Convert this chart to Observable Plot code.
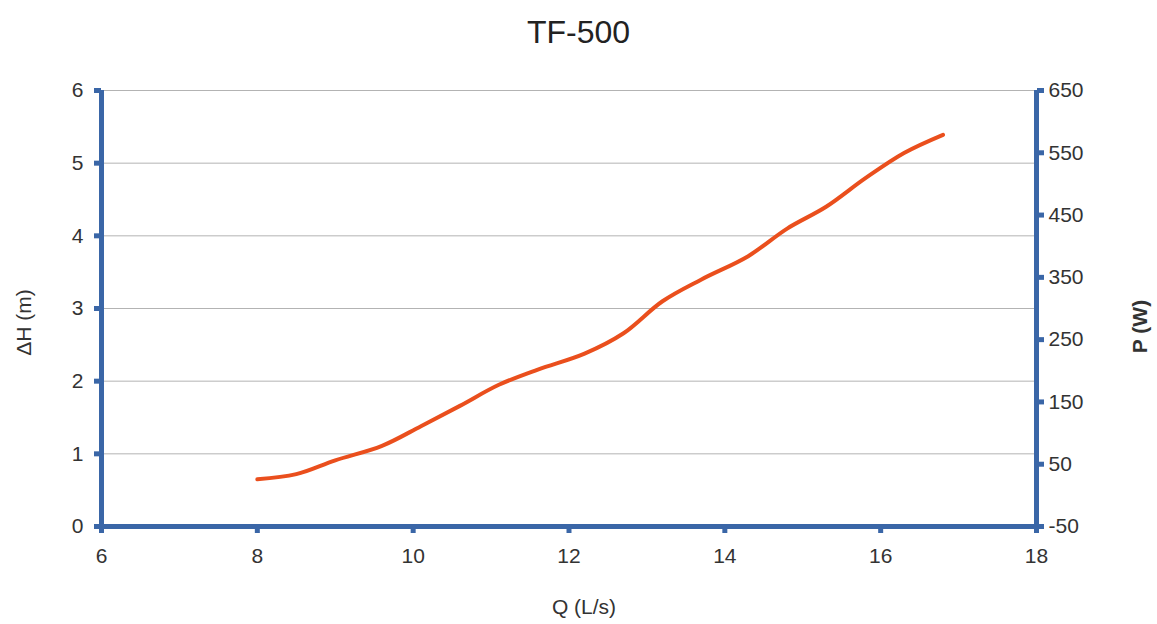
<!DOCTYPE html>
<html><head><meta charset="utf-8">
<script src="https://cdn.jsdelivr.net/npm/d3@7"></script>
<script src="https://cdn.jsdelivr.net/npm/@observablehq/plot@0.6"></script>
<style>
body{margin:0;background:#fff;font-family:"Liberation Sans",Arial,sans-serif;}
#title{height:60px;text-align:center;font-size:32px;color:#222;line-height:64px;padding-left:0px;}
#chart svg{display:block;}
</style></head><body>
<div id="title">TF-500</div>
<div id="chart"></div>
<script>
const Q  = [8.0, 8.5, 9.0, 9.6, 10.1, 10.6, 11.1, 11.6, 12.2, 12.7, 13.2, 13.7, 14.3, 14.8, 15.3, 15.8, 16.3, 16.8];
const dH = [0.65, 0.72, 0.91, 1.11, 1.38, 1.66, 1.95, 2.16, 2.38, 2.66, 3.10, 3.40, 3.72, 4.10, 4.40, 4.79, 5.14, 5.39];
const xTicks = [6, 8, 10, 12, 14, 16, 18];
const hTicks = [0, 1, 2, 3, 4, 5, 6];
const pTicks = [-50, 50, 150, 250, 350, 450, 550, 650];
const title = "TF-500";
const xLabel = "Q (L/s)";
const hLabel = "ΔH (m)";
const pLabel = "P (W)";

const hDomain = [0, 6], pDomain = [-50, 650];
const toH = p => (p - pDomain[0]) / (pDomain[1] - pDomain[0]) * (hDomain[1] - hDomain[0]) + hDomain[0];
const toP = h => Math.round(pDomain[0] + (h - hDomain[0]) / (hDomain[1] - hDomain[0]) * (pDomain[1] - pDomain[0]));
const data = Q.map((q, i) => ({q, h: dH[i]}));
const blue = "#3a66a7";
const txt = "#333";
document.getElementById("title").textContent = title;

const chart = Plot.plot({
  width: 1157, height: 564,
  marginTop: 30, marginBottom: 98, marginLeft: 101, marginRight: 121,
  style: {fontFamily: "'Liberation Sans', Arial, sans-serif", fontSize: "21px", color: txt, background: "#fff"},
  x: {domain: [6, 18]},
  y: {domain: hDomain},
  marks: [
    Plot.gridY(hTicks, {stroke: "#b3b3b3", strokeOpacity: 1, strokeWidth: 1}),
    Plot.axisX(xTicks, {tickSize: 7, tickPadding: 15, stroke: blue, strokeWidth: 5, fill: txt, label: null, fontSize: 21, tickFormat: d => String(d)}),
    Plot.axisY(hTicks, {anchor: "left", tickSize: 7, tickPadding: 11, stroke: blue, strokeWidth: 5, fill: txt, label: null, fontSize: 21, tickFormat: d => String(d)}),
    Plot.axisY(pTicks.map(toH), {anchor: "right", tickSize: 7, tickPadding: 5, stroke: blue, strokeWidth: 5, fill: txt, label: null, fontSize: 21, tickFormat: toP}),
    Plot.ruleX([6, 18], {stroke: blue, strokeWidth: 5}),
    Plot.ruleY([0], {stroke: blue, strokeWidth: 5}),
    Plot.line(data, {x: "q", y: "h", stroke: "#ea4f1d", strokeWidth: 4, curve: "catmull-rom"}),
    Plot.text([xLabel], {text: d => d, frameAnchor: "bottom", dy: 81, dx: 15, fontSize: 21, fill: txt, lineAnchor: "middle", textAnchor: "middle"}),
    Plot.text([hLabel], {text: d => d, frameAnchor: "left", dx: -77, dy: 14, rotate: -90, fontSize: 21, fill: txt, textAnchor: "middle"}),
    Plot.text([pLabel], {text: d => d, frameAnchor: "right", dx: 104, dy: 18, rotate: -90, fontSize: 21, fontWeight: "bold", fill: txt, textAnchor: "middle"})
  ]
});
document.getElementById("chart").appendChild(chart);
</script>
</body></html>
